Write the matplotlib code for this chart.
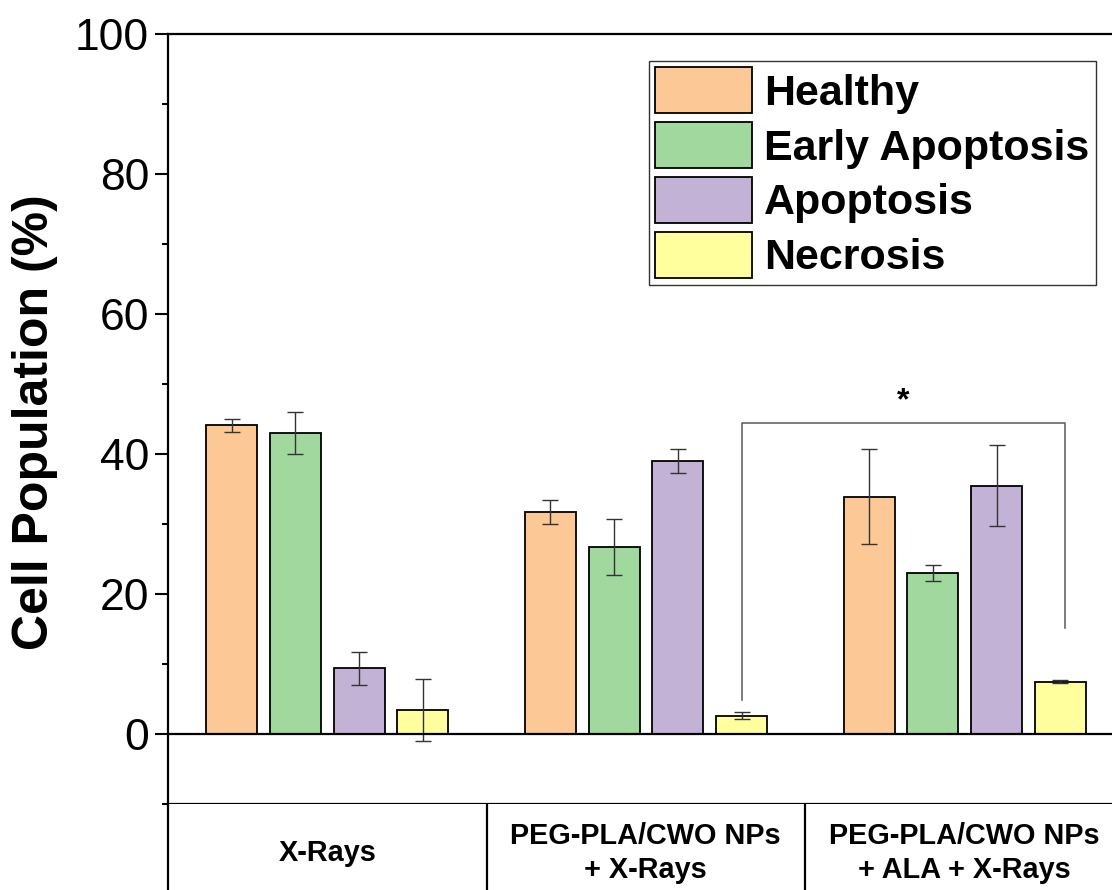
import numpy as np
import matplotlib
matplotlib.use("Agg")
import matplotlib.pyplot as plt

plt.rcParams['font.family'] = ['Liberation Sans', 'DejaVu Sans']

# data
groups = ["X-Rays", "PEG-PLA/CWO NPs\n+ X-Rays", "PEG-PLA/CWO NPs\n+ ALA + X-Rays"]
series = ["Healthy", "Early Apoptosis", "Apoptosis", "Necrosis"]
healthy = [44.1, 31.7, 33.9]
healthy_err = [0.95, 1.7, 6.8]
early = [43.0, 26.7, 23.0]
early_err = [3.0, 3.95, 1.1]
apoptosis = [9.4, 39.0, 35.5]
apoptosis_err = [2.35, 1.7, 5.75]
necrosis = [3.4, 2.6, 7.5]
necrosis_err = [4.4, 0.5, 0.15]

# significance bracket between necrosis of group 2 and group 3
sig_groups = [1, 2]
sig_left_bottom = 4.8
sig_top = 44.4
sig_right_bottom = 15.2
sig_label = "*"

colors = ["#FBC896", "#A0D89E", "#C2B2D6", "#FFFF9E"]
values = [healthy, early, apoptosis, necrosis]
errors = [healthy_err, early_err, apoptosis_err, necrosis_err]

W, H = 1112, 890
fig = plt.figure(figsize=(W / 100, H / 100), dpi=100)
ax = fig.add_axes([168 / W, 86 / H, (1124 - 168) / W, (804 - 34) / H])

x = np.arange(len(groups))
offsets = [-0.3, -0.1, 0.1, 0.3]
bw = 0.16
for i in range(4):
    ax.bar(x + offsets[i], values[i], bw, color=colors[i], edgecolor='black',
           linewidth=1.3, label=series[i], zorder=2)
    ax.errorbar(x + offsets[i], values[i], yerr=errors[i], fmt='none',
                ecolor='#333333', elinewidth=1.0, capsize=5.6, capthick=1.0, zorder=3)

ax.axhline(0, color='black', lw=1.6, zorder=4)

# bracket
xl = sig_groups[0] + offsets[3]
xr = sig_groups[1] + offsets[3] + 0.014
ax.plot([xl, xl, xr, xr], [sig_left_bottom, sig_top, sig_top, sig_right_bottom],
        color='#666666', lw=1.2, zorder=1)
ax.text((xl + xr) / 2, sig_top + 3.1, sig_label, ha='center', va='center',
        fontsize=23, fontweight='bold')

ax.set_xlim(-0.5, 2.5)
ax.set_ylim(-10, 100)
ax.set_yticks([0, 20, 40, 60, 80, 100])
ax.set_yticks([-10, 10, 30, 50, 70, 90], minor=True)
ax.set_xticks([])
ax.tick_params(axis='y', which='major', direction='out', length=9.5, width=1.5,
               labelsize=32, pad=4)
ax.tick_params(axis='y', which='minor', direction='out', length=4, width=1.5)
for s in ['left', 'top', 'bottom']:
    ax.spines[s].set_linewidth(1.6)
ax.spines['right'].set_visible(False)

fig.text(35 / W, 1 - 422 / H, "Cell Population (%)", rotation=90, ha='center',
         va='center', fontsize=36, fontweight='bold')

leg = ax.legend(loc='upper right', bbox_to_anchor=(1096 / W, 1 - 61 / H),
                bbox_transform=fig.transFigure, borderaxespad=0, frameon=True,
                fancybox=False, edgecolor='#333333', framealpha=1,
                prop={'size': 31, 'weight': 'bold'}, handlelength=2.25,
                handleheight=1.25, handletextpad=0.28, labelspacing=0.2,
                borderpad=0.15)
leg.get_frame().set_linewidth(1.0)

# category table under the axis
tab = fig.add_axes([168 / W, -20 / H, (1124 - 168) / W, (86 + 20) / H])
tab.set_xlim(-0.5, 2.5)
tab.set_ylim(0, 1)
tab.set_xticks([])
tab.set_yticks([])
for s in ['top', 'right', 'bottom']:
    tab.spines[s].set_visible(False)
tab.spines['left'].set_linewidth(1.6)
for d in x[:-1] + 0.5:
    tab.axvline(d, color='black', lw=1.6)
for i, g in enumerate(groups):
    fig.text((168 + (i + 0.5) * 318.5) / W, 37 / H, g, ha='center', va='center',
             fontsize=20.8, fontweight='bold', linespacing=1.3)

fig.savefig("out.png", dpi=100)
